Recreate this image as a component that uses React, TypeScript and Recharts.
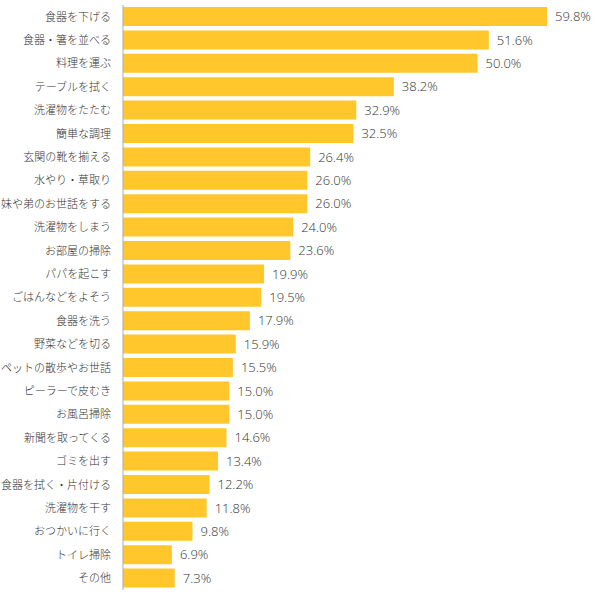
import React from 'react';
import { BarChart, Bar, XAxis, YAxis, LabelList } from 'recharts';

const categories = [
  '食器を下げる', '食器・箸を並べる', '料理を運ぶ', 'テーブルを拭く', '洗濯物をたたむ',
  '簡単な調理', '玄関の靴を揃える', '水やり・草取り', '妹や弟のお世話をする', '洗濯物をしまう',
  'お部屋の掃除', 'パパを起こす', 'ごはんなどをよそう', '食器を洗う', '野菜などを切る',
  'ペットの散歩やお世話', 'ピーラーで皮むき', 'お風呂掃除', '新聞を取ってくる', 'ゴミを出す',
  '食器を拭く・片付ける', '洗濯物を干す', 'おつかいに行く', 'トイレ掃除', 'その他',
];
const values = [
  59.8, 51.6, 50.0, 38.2, 32.9,
  32.5, 26.4, 26.0, 26.0, 24.0,
  23.6, 19.9, 19.5, 17.9, 15.9,
  15.5, 15.0, 15.0, 14.6, 13.4,
  12.2, 11.8, 9.8, 6.9, 7.3,
];

const data = categories.map((name, i) => ({ name, value: values[i] }));
const FONT = '"Noto Sans CJK JP", "Noto Sans", sans-serif';

export default function App() {
  return (
    <div style={{ position: 'absolute', left: 0, top: 0, background: '#fff', fontFamily: FONT }}>
      <BarChart
        width={600}
        height={599}
        data={data}
        layout="vertical"
        margin={{ top: 5, right: 53, bottom: 9, left: 0 }}
        barCategoryGap={2}
      >
        <XAxis
          type="number"
          domain={[0, 'dataMax']}
          tick={false}
          tickLine={false}
          height={0}
          axisLine={{ stroke: '#aaaaaa' }}
        />
        <YAxis
          type="category"
          dataKey="name"
          width={123}
          tickLine={false}
          axisLine={{ stroke: '#aaaaaa' }}
          tick={{ fill: '#333', fontSize: 11, fontWeight: 300, fontFamily: FONT }}
          tickMargin={6}
          interval={0}
        />
        <Bar dataKey="value" fill="#FFC72C" isAnimationActive={false}>
          <LabelList
            dataKey="value"
            position="right"
            offset={8}
            formatter={(v: number) => `${v.toFixed(1)}%`}
            style={{ fill: '#333', fontSize: 13, fontWeight: 300, fontFamily: '"Open Sans", "Noto Sans", sans-serif' }}
          />
        </Bar>
      </BarChart>
    </div>
  );
}
